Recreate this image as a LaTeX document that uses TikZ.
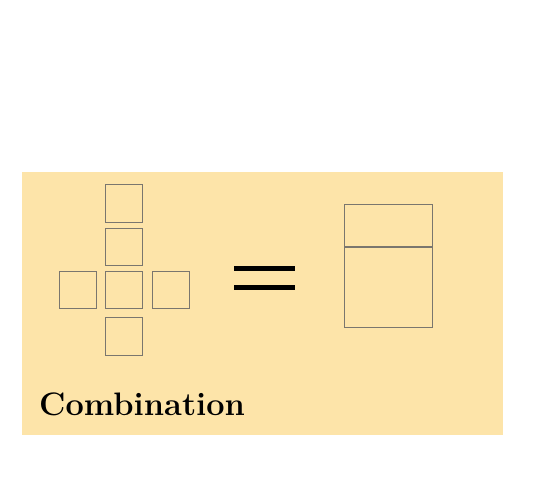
\documentclass[tikz,border=0pt]{standalone}
\usetikzlibrary{positioning}

\definecolor{paper}{RGB}{253,228,169}
\definecolor{edge}{RGB}{122,118,110}

\tikzstyle{cell} = [draw=edge,line width=1.1pt,rectangle,minimum width=37.5pt,minimum height=37.5pt,inner sep=0pt]
\tikzstyle{part} = [draw=edge,line width=1.1pt,rectangle,minimum width=88.3pt,inner sep=0pt]
\tikzstyle{eqbar} = [line width=4.7pt,black]

\begin{document}
\begin{tikzpicture}[x=1pt,y=-1pt]
	\useasboundingbox (0,0) rectangle (541,486);
	\fill[paper] (22,172) rectangle (502.5,435);
	% cross of cells
	\node (mid) [cell] at (124,289.85) {};
	\node (left) [cell,left of=mid,node distance=46pt] {};
	\node (right) [cell,right of=mid,node distance=47pt] {};
	\node (up) [cell,above of=mid,node distance=43pt] {};
	\node (top) [cell,above of=up,node distance=43.15pt] {};
	\node (down) [cell,below of=mid,node distance=46.85pt] {};
	% equals sign
	\coordinate (eqa) at (234,268.3);
	\coordinate (eqb) at (295,268.3);
	\coordinate (eqc) at (234,287.3);
	\coordinate (eqd) at (295,287.3);
	\draw [eqbar] (eqa) -- (eqb);
	\draw [eqbar] (eqc) -- (eqd);
	% result block
	\node (lid) [part,minimum height=42.8pt] at (388.35,225.6) {};
	\node (box) [part,minimum height=80.2pt,below of=lid,node distance=61.5pt] {};
	\node (title) [anchor=base west,inner sep=0pt] at (39,415) {\fontsize{32.5}{32.5}\selectfont\bfseries Combination};
\end{tikzpicture}
\end{document}
